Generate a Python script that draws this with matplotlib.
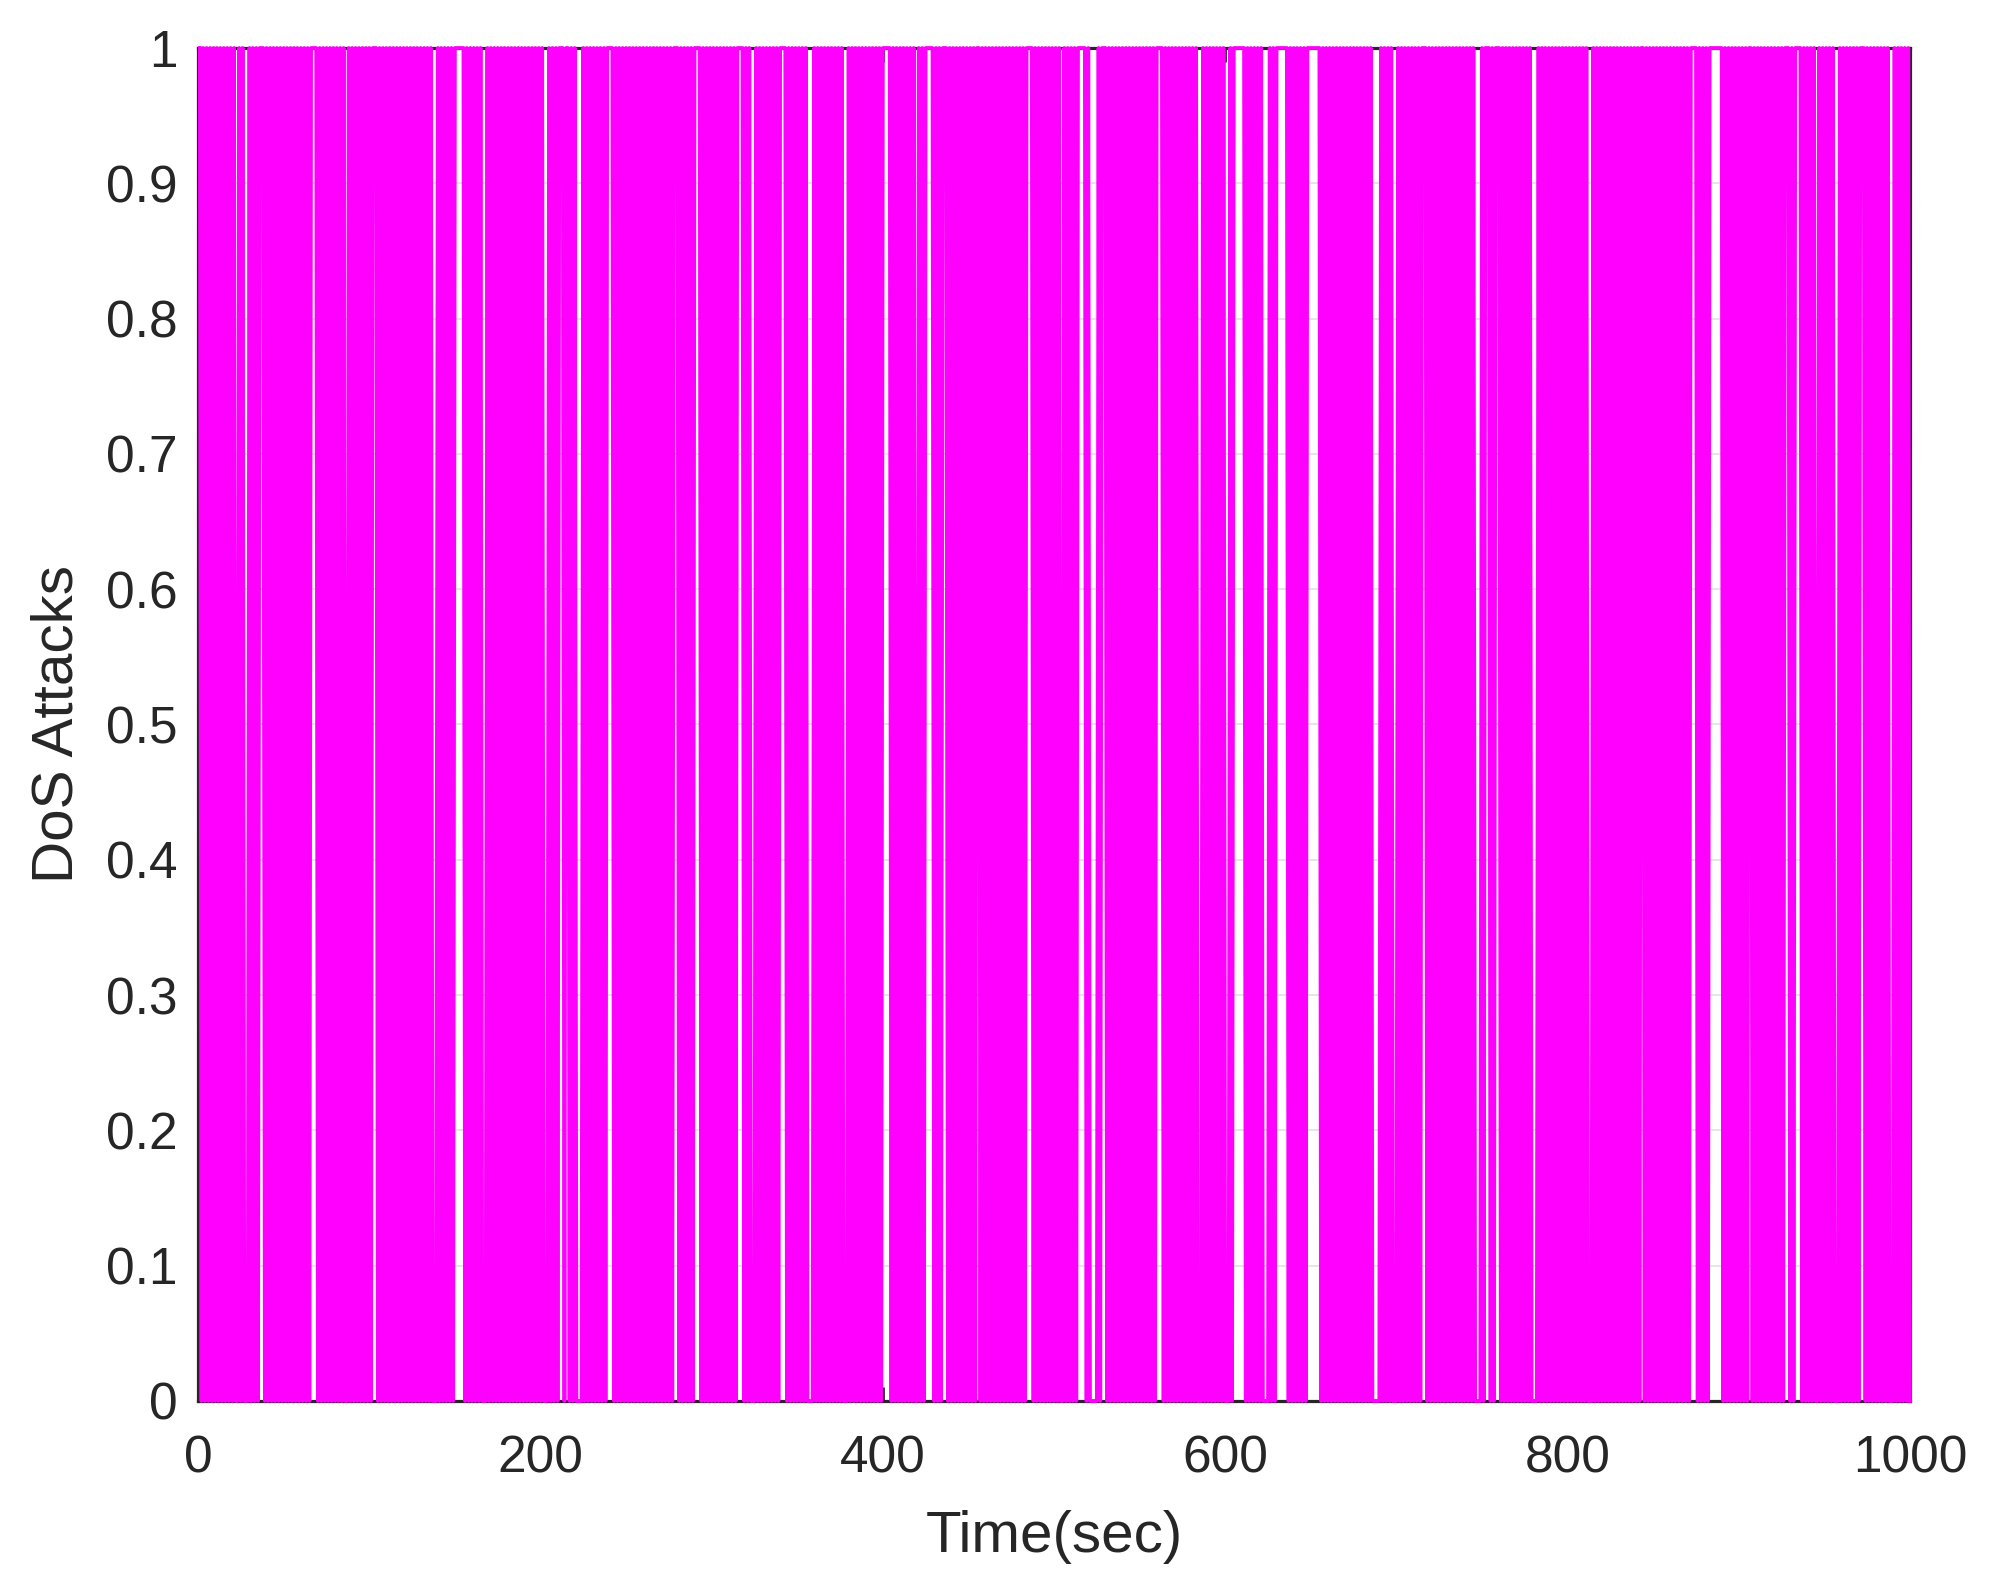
import numpy as np
import matplotlib
matplotlib.use("Agg")
import matplotlib.pyplot as plt

# DoS attack flag, one sample per second (t = 1..1000).
# Dense magenta = flag toggling every second, white stripes = flag held.
attack_rows = [
    # t 1-101
    "101010101010101010101" "00" "101" "000" "101010" "111"
    "0101010101" "0101010101" "0101010" "1111" "0101010101" "010101" "00"
    "1010101010" "1010",
    # t 102-201
    "111" "0101010101" "0101010101" "0101010101" "01" "000" "1010101010"
    "111111" "0101010101" "000" "1010101010" "1010101010" "1010101010" "101",
    # t 202-293
    "000" "101010" "111" "0" "11" "0101" "0000" "1010101010" "1010" "1111"
    "0101010101" "0101010101" "0101010101" "01010" "111" "010101010" "1111",
    # t 294-399
    "0101010101" "0101010101" "0" "1111" "0101" "000" "1010101010" "1010"
    "1111" "0101010101" "01" "0000" "1010101010" "1010101" "000"
    "1010101010" "1010101010",
    # t 400-505
    "11111" "0101010101" "0101" "00" "1010" "11111" "01010" "111"
    "0101010101" "0101010" "11" "0101010101" "0101010101" "0101010" "1111"
    "0101010101" "010101" "00",
    # t 506-602
    "10101010" "11111" "01" "00000" "10" "111"
    "0101010101" "0101010101" "010101010" "1111" "0101010101" "0101010101"
    "000" "1010101010" "101" "000",
    # t 603-700
    "10" "1111111" "0101010101" "0000" "1010" "1111111" "0101010101" "0"
    "11111111" "0101010101" "0101010101" "0101010101" "00000" "1010101" "000",
    # t 701-814
    "1010101010" "1010" "111" "0101010101" "0101010101" "01010101" "0000"
    "10" "111" "010" "111" "0101010101" "01010101" "0000"
    "1010101010" "1010101010" "101010101" "000",
    # t 815-907
    "1010101010" "1010101010" "10101010" "11" "0101010101" "0101010101"
    "0101010" "1111" "0101010" "11111111" "0101010101" "01010" "11",
    # t 908-1000
    "0101010101" "010101010" "111" "010" "1111" "01010101" "00" "101010101"
    "000" "1010101010" "10" "111" "0101010101" "0101" "000" "1010101010",
]

x_ticks = [0, 200, 400, 600, 800, 1000]
y_ticks = [0, 0.1, 0.2, 0.3, 0.4, 0.5, 0.6, 0.7, 0.8, 0.9, 1]
y_tick_labels = ["0", "0.1", "0.2", "0.3", "0.4", "0.5", "0.6", "0.7", "0.8", "0.9", "1"]

dos = np.array([int(c) for c in "".join(attack_rows)])
time_sec = np.arange(1, len(dos) + 1)

plt.rcParams['font.family'] = ['Liberation Sans', 'DejaVu Sans']
dark = '#262626'

fig = plt.figure(figsize=(19.91, 15.90), dpi=100)
ax = fig.add_axes([0.0995, 0.1189, 0.8598, 0.8509])

ax.plot(time_sec, dos, color='#ff00ff', linewidth=2.7, zorder=3, clip_on=False)

ax.set_xlim(0, 1000)
ax.set_ylim(0, 1)
ax.set_xticks(x_ticks)
ax.set_yticks(y_ticks)
ax.set_yticklabels(y_tick_labels)
ax.grid(True, color='#e3e3e3', linewidth=1.3)
ax.set_axisbelow(True)

for spine in ax.spines.values():
    spine.set_color(dark)
    spine.set_linewidth(2.3)

ax.tick_params(direction='in', length=10, width=2, colors=dark,
               labelsize=37, top=True, right=True)
ax.tick_params(axis='x', pad=24)
ax.tick_params(axis='y', pad=15)

ax.set_xlabel('Time(sec)', fontsize=42, color=dark)
ax.xaxis.set_label_coords(0.5, -0.1005)
ax.xaxis.label.set_va('center')
ax.set_ylabel('DoS Attacks', fontsize=42, color=dark)
ax.yaxis.set_label_coords(-0.0824, 0.5)
ax.yaxis.label.set_va('center')

fig.savefig('out.png', dpi=100)
